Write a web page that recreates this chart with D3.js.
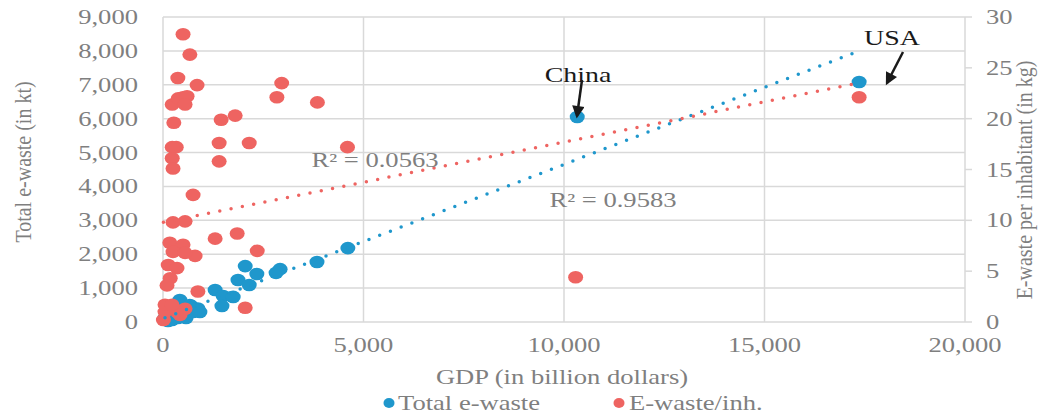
<!DOCTYPE html>
<html>
<head>
<meta charset="utf-8">
<script src="https://cdn.jsdelivr.net/npm/d3@7"></script>
<style>
  body { margin: 0; background: #fff; }
  text { font-family: "Liberation Serif", "Times New Roman", serif; }
</style>
</head>
<body>
<div id="chart"></div>
<script>
// GDP (billion $) and total e-waste (kt) per country
var totalGdp = [17360, 10330, 4610, 3840, 2920, 2820, 2050, 2340, 1870, 2150, 1300, 1500, 1750, 1470,
    870, 700, 420, 670, 50, 175, 300, 424, 549, 673, 224, 374, 125, 574, 748, 920];
var totalKt = [7080, 6050, 2180, 1770, 1560, 1450, 1650, 1415, 1240, 1090, 945, 765, 740, 470,
    400, 470, 650, 500, 118, 207, 295, 354, 266, 413, 59, 118, 30, 118, 295, 295];

// GDP (billion $) and e-waste per inhabitant (kg)
var inhGdp = [17360, 10290, 4600, 3850, 2840, 2960, 1800, 1450, 1400, 2150, 1400, 750, 1300, 1850,
    2350, 2050, 870, 500, 670, 370, 850, 500, 230, 380, 600, 550, 270, 330, 230, 230, 250, 250,
    550, 170, 500, 250, 800, 550, 130, 350, 180, 100, 10, 50, 175, 350, 550, 50, 224, 424];
var inhKg = [22.1, 4.4, 17.2, 21.6, 22.1, 23.5, 20.3, 19.9, 17.6, 17.6, 15.8, 12.5, 8.2, 8.7,
    7.0, 1.4, 3.0, 28.3, 26.3, 24.0, 23.3, 22.1, 21.4, 22.0, 22.2, 21.4, 19.6, 17.2, 17.2, 16.1, 15.1, 9.8,
    9.9, 7.8, 7.6, 6.9, 6.5, 6.8, 5.6, 5.3, 4.3, 3.6, 0.2, 1.0, 1.3, 1.0, 1.3, 1.7, 1.7, 0.7];

// linear trendlines as shown on the figure
var trendTotal = { intercept: 100, slope: 0.455, label: "R² = 0.9583" };
var trendInh = { intercept: 9.8, slope: 0.00079, label: "R² = 0.0563" };

var xTicks = [0, 5000, 10000, 15000, 20000];
var yLeftTicks = [0, 1000, 2000, 3000, 4000, 5000, 6000, 7000, 8000, 9000];
var yRightTicks = [0, 5, 10, 15, 20, 25, 30];

var blue = "#1f97cc",
    red = "#ee6461",
    grid = "#d9d9d9",
    grey = "#7f7f7f",
    SX = 1.33; // picture is stretched horizontally

var width = 1054, height = 416;

var svg = d3.select("#chart").append("svg")
    .attr("width", width)
    .attr("height", height);

var x = d3.scaleLinear().domain([0, 20000]).range([163, 965]);
var yL = d3.scaleLinear().domain([0, 9000]).range([322, 17]);
var yR = d3.scaleLinear().domain([0, 30]).range([322, 17]);

// stretched text helper
function label(g, tx, ty, str, anchor, size, color) {
    var t = g.append("g").attr("transform", "translate(" + tx + "," + ty + ") scale(" + SX + ",1)");
    t.append("text")
        .attr("text-anchor", anchor)
        .attr("font-size", size)
        .attr("fill", color)
        .text(str);
    return t;
}

// grid
svg.append("g").selectAll("line.h").data(yLeftTicks).enter().append("line")
    .attr("x1", x(0)).attr("x2", x(20000))
    .attr("y1", function(d) { return yL(d); })
    .attr("y2", function(d) { return yL(d); })
    .attr("stroke", grid).attr("stroke-width", 1.5);

svg.append("g").selectAll("line.v").data(xTicks).enter().append("line")
    .attr("x1", function(d) { return x(d); })
    .attr("x2", function(d) { return x(d); })
    .attr("y1", yL(0)).attr("y2", yL(9000))
    .attr("stroke", grid).attr("stroke-width", 1.5);

// right axis ticks
svg.append("g").selectAll("line").data(yRightTicks).enter().append("line")
    .attr("x1", x(20000)).attr("x2", x(20000) + 7)
    .attr("y1", function(d) { return yR(d); })
    .attr("y2", function(d) { return yR(d); })
    .attr("stroke", grid).attr("stroke-width", 1.5);

// tick labels
var tl = svg.append("g");
yLeftTicks.forEach(function(d) {
    label(tl, 138, yL(d) + 7, d3.format(",")(d), "end", 20, grey);
});
yRightTicks.forEach(function(d) {
    label(tl, 986, yR(d) + 7, d, "start", 20, grey);
});
xTicks.forEach(function(d) {
    label(tl, x(d), 352, d3.format(",")(d), "middle", 20, grey);
});

// axis titles
label(svg, 562, 384, "GDP (in billion dollars)", "middle", 20, grey);
svg.append("g")
    .attr("transform", "translate(31,162) rotate(-90) scale(1,1.2)")
    .append("text").attr("text-anchor", "middle").attr("font-size", 20).attr("fill", grey)
    .text("Total e-waste (in kt)");
svg.append("g")
    .attr("transform", "translate(1032,180) rotate(-90) scale(1,1.2)")
    .append("text").attr("text-anchor", "middle").attr("font-size", 20).attr("fill", grey)
    .text("E-waste per inhabitant (in kg)");

// points
svg.append("g").selectAll("ellipse").data(totalGdp).enter().append("ellipse")
    .attr("cx", function(d) { return x(d); })
    .attr("cy", function(d, i) { return yL(totalKt[i]); })
    .attr("rx", 7.5).attr("ry", 6.3)
    .attr("fill", blue);

svg.append("g").selectAll("ellipse").data(inhGdp).enter().append("ellipse")
    .attr("cx", function(d) { return x(d); })
    .attr("cy", function(d, i) { return yR(inhKg[i]); })
    .attr("rx", 7.5).attr("ry", 6.3)
    .attr("fill", red);

// trendlines
function trend(t, gdp, yScale, color) {
    var x0 = d3.min(gdp), x1 = d3.max(gdp);
    svg.append("line")
        .attr("x1", x(x0)).attr("y1", yScale(t.intercept + t.slope * x0))
        .attr("x2", x(x1)).attr("y2", yScale(t.intercept + t.slope * x1))
        .attr("stroke", color).attr("stroke-width", 3.5)
        .attr("stroke-linecap", "round")
        .attr("stroke-dasharray", "0 11.5");
}
trend(trendTotal, totalGdp, yL, blue);
trend(trendInh, inhGdp, yR, red);

label(svg, 375, 167, trendInh.label, "middle", 20, grey);
label(svg, 613, 207, trendTotal.label, "middle", 20, grey);

// annotations
svg.append("defs").append("marker")
    .attr("id", "arrow")
    .attr("viewBox", "0 0 10 10")
    .attr("refX", 8).attr("refY", 5)
    .attr("markerWidth", 5.5).attr("markerHeight", 5)
    .attr("orient", "auto")
    .append("path").attr("d", "M0,0 L10,5 L0,10 z").attr("fill", "#1a1a1a");

label(svg, 578, 82, "China", "middle", 21, "#1a1a1a");
svg.append("line")
    .attr("x1", 582).attr("y1", 80).attr("x2", 577).attr("y2", 116)
    .attr("stroke", "#1a1a1a").attr("stroke-width", 2.5)
    .attr("marker-end", "url(#arrow)");

label(svg, 892, 45, "USA", "middle", 21, "#1a1a1a");
svg.append("line")
    .attr("x1", 903).attr("y1", 52).attr("x2", 887).attr("y2", 83)
    .attr("stroke", "#1a1a1a").attr("stroke-width", 2.5)
    .attr("marker-end", "url(#arrow)");

// legend
var leg = svg.append("g");
leg.append("ellipse").attr("cx", 389).attr("cy", 403).attr("rx", 5.5).attr("ry", 5).attr("fill", blue);
label(leg, 398, 410, "Total e-waste", "start", 20, grey);
leg.append("ellipse").attr("cx", 619).attr("cy", 403).attr("rx", 5.5).attr("ry", 5).attr("fill", red);
label(leg, 629, 410, "E-waste/inh.", "start", 20, grey);
</script>
</body>
</html>
